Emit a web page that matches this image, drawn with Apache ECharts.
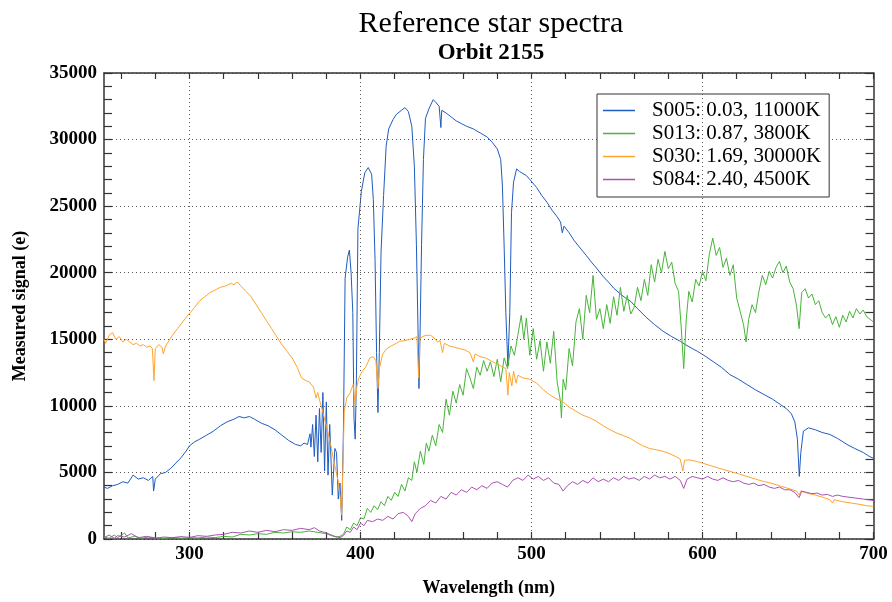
<!DOCTYPE html>
<html>
<head>
<meta charset="utf-8">
<script src="https://cdn.jsdelivr.net/npm/echarts@6/dist/echarts.min.js"></script>
<style>
html,body{margin:0;padding:0;background:#fff;}
#chart{width:892px;height:602px;}
</style>
</head>
<body>
<div id="chart"></div>
<script>
// ---- Data ----
var seriesNames = ['S005: 0.03, 11000K', 'S013: 0.87, 3800K', 'S030: 1.69, 30000K', 'S084: 2.40, 4500K'];

var s005_nm = [250,252,255,258,261,264,267,270,273,276,278.5,279,280,283,286,289,292,295,298,300,303,306,310,314,318,322,326,329,332,335,338,342,346,350,354,358,362,365,367,369,370.5,371,372,373,374,375,376,377,378,379,380,381,382,383.5,385,386,387,388,389,390,391,392.5,393.5,394.5,395.5,396.2,396.9,397.6,398.5,400.5,402.5,404.5,406.5,407.5,408.5,409.4,410.2,411,412,413.5,415,416.5,419,421,424,426,428,430,431.5,432.7,433.6,434.2,434.9,435.7,436.8,438,440,442.5,444,446,447,447.5,450,453,456,459,462,466,470,474,477,480,482,483,484,485,486.2,487.3,488.3,489.5,491.3,493,497,499,503,506,509,512,515,517,518,519,522,525,528.5,532,535,538,542,545,548,552,555,558,562,567.5,572,577,582,587,590,594,597,602,606.5,611,616,621,626,631,636,641,645.5,649,652,654,655.5,656.6,657.5,659,662,666,670,674.5,679,684.5,689,694,697,700];
var s005_val = [3900,3800,4000,4100,4300,4200,4800,4500,4600,4400,4700,3600,4500,4900,5000,5300,5700,6100,6600,7000,7300,7500,7800,8100,8500,8800,9000,9200,9100,9200,9000,8700,8500,8200,7800,7400,7100,7000,7200,7100,7900,6900,8600,6200,9300,5800,9800,6500,11000,5100,10300,4800,8600,3300,6800,6500,3000,4200,1400,8000,19600,21200,21700,20000,17000,9000,7500,12000,23300,26100,27500,27900,27400,25500,21000,14000,9500,14000,21500,25800,29500,30800,31500,31900,32200,32400,32100,31000,28000,22100,16000,11300,16000,22100,28500,31600,32300,33000,32800,32500,30900,32200,32000,31700,31400,31200,31000,30800,30500,30200,29800,29300,28500,26500,22000,17000,13000,17000,24500,26800,27800,27600,27300,27000,26400,25800,25300,24700,24200,23800,23000,23500,23000,22400,21850,21300,20800,20350,19700,19300,18850,18400,18100,17850,17300,16600,16100,15600,15200,14850,14600,14300,14100,13700,13300,12900,12350,12000,11600,11200,10850,10500,10100,9800,9400,8800,7500,4700,6500,8100,8350,8200,8000,7850,7550,7100,6800,6500,6250,6050];

var s013_nm = [250,253,256,258,262,264,268,272,276,280,285,290,295,300,305,310,315,320,325,330,335,340,345,350,355,360,365,370,375,380,383,386,388,390,392,394,396,398,400,402,404,406,408,410,412,414,416,418,420,422,424,426,428,430,431.5,433,435,437,438.5,440,442,444,446,448,450,452,454,456,458,460,462,464,466,468,470,472,474,476,478,480,482,484,486,488,490,492,494,495.5,497,499,501,503,505,507,509,511,513,515,517,517.5,518.5,520,522,524,526,528,530,532,534,536,538,540,542,544,546,548,550,552,554,556,558,560,562,564,566,568,570,572,574,576,578,580,582,584,586,587.5,589,590.5,592,594,596,598,600,602,604,606,608,610,612,614,616,618,620,622,624,625.5,627,629,631,633,635,637,639,641,643,645,647,649,651,653,655,656.5,658,660,662,664,666,668,670,672,674,676,678,680,682,684,686,688,690,692,694,696,698,700];
var s013_val = [150,50,300,100,450,80,200,60,150,100,50,120,60,100,80,150,100,200,150,350,300,400,350,500,450,550,500,600,500,400,250,150,200,350,900,700,1200,1000,1600,1500,2300,2000,2500,2200,2800,2500,3200,2900,3500,3200,4100,3600,4600,4400,5800,5000,6600,5600,7200,6600,7800,7000,8600,8000,10500,9300,11100,10200,11600,10800,12800,12100,11300,12900,12300,13400,12600,13300,12200,13500,11800,13600,12800,14500,13800,15300,16800,15000,16600,13800,15800,13500,14900,12600,14800,13200,15600,11800,10300,9100,12000,11200,14300,13000,16300,17300,15000,18300,17000,19800,16500,17300,15800,17600,16200,18200,16800,18900,17100,18300,16900,17400,18900,17900,19500,18300,20600,19300,21000,20000,21600,20300,20800,19200,18600,16000,12800,16500,18600,17800,19500,19000,20100,19400,21400,22600,21300,21900,20400,21100,19800,20600,18100,17100,16100,14800,16500,17600,17000,18600,19800,19100,20100,19600,20400,20850,20000,20500,19300,18800,17500,15800,18500,18800,18100,18400,17600,17900,17000,16600,16900,16100,16700,15900,16800,16300,17100,16600,17300,16900,17200,16700,16500,16300];

var s030_nm = [250,251,253,255,257,259,261,263,265,267,269,271,273,275,277,278.3,279.2,280,282,284,284.7,286,288,290,293,296,299,300.5,303,306,309,312,315,318,321,324,326,328,330,333,336,339,342,345,348,351,354,357,360,363,365.5,368,370,372.5,374,375,376.3,377.5,379,381,383,384,385.5,387,388,389,390.5,392,394,395.7,396.9,397.8,399,401,403,405.5,407.5,409,410.2,411,413,415.4,418,421,423,426,429,431.5,433,434,434.7,436,438.5,441,443,445,446.5,448,449,452,455,458,461,464,466,467,470,473,476,479,482,485,486.2,487,488.5,489.5,491,492,495,499,503,507,511,515,518.5,522,526,530,534,538,542,546,550,554,557.5,561,565,569,573,577,581,585,587,588.5,589.5,592,596.5,600,605,610,616,621,626,631,635.5,640,645,650,655,656.5,657.5,661,666,670,674.5,676,677,682,687,692,696,700];
var s030_val = [15000,14700,15300,15500,15000,15200,14800,15000,14800,14600,14700,14500,14600,14400,14500,14300,11900,14300,14600,14400,13900,14500,14900,15300,15800,16300,16800,17000,17400,17900,18200,18500,18700,18900,19000,19200,19100,19300,19000,18600,18200,17600,17000,16400,15800,15200,14600,14100,13600,12900,12100,11900,11800,11400,10600,11000,10300,9800,9000,8000,6800,6100,5200,4300,3300,1800,9600,10600,11000,11600,10000,11400,12100,12600,12900,13600,13700,13400,11300,12800,13900,14300,14500,14700,14850,14900,15000,15100,15200,12100,15000,15200,15300,15300,15100,14800,14900,14000,14700,14500,14400,14300,14200,14000,13300,13900,13700,13600,13400,13200,13000,12800,10800,12500,11500,12600,11700,12300,12100,12000,11700,11200,10800,10500,10300,9900,9600,9300,9100,8840,8500,8200,7950,7750,7580,7300,7000,6800,6700,6580,6400,6150,6000,5100,5900,5950,5830,5700,5500,5300,5080,4900,4700,4500,4330,4200,4000,3800,3600,3300,3600,3450,3300,3150,2950,2700,2950,2800,2700,2600,2500,2450];

var s084_nm = [250,253,256,258,262,266,270,275,280,285,290,295,300,305,310,315,320,325,330,335,340,345,350,355,360,365,370,373,376,379,382,385,388,390,392,394,396,398,400,402,404,407,410,413,416,419,422,425,428,430,432,435,438,441,444,447,450,453,456,459,462,465,468,471,474,477,480,483,486,489,492,495,498,501,504,507,510,513,516,518.5,521,524,527,530,533,536,539,542,545,548,551,554,557,560,563,566,569,572,575,578,581,584,587,589,591,594,597,600,603,606,609,612,615,618,621,624,627,630,633,636,639,642,645,648,651,654,656.5,658,661,664,667,670,673,676,679,682,685,688,691,694,697,700];
var s084_val = [100,300,50,250,150,400,100,200,50,150,100,180,120,250,200,300,350,500,450,600,500,650,550,700,650,800,700,850,600,500,350,200,100,250,600,500,900,700,1200,1000,1400,1300,1500,1400,1700,1500,1900,2000,1700,1300,1900,2300,2500,2900,2700,3200,3000,3500,3300,3700,3500,3900,3700,4000,3800,4200,4300,4100,3900,4400,4600,4400,4800,4500,4700,4400,4600,4200,4100,3600,4000,4300,4100,4400,4200,4600,4300,4500,4300,4600,4400,4700,4500,4600,4400,4700,4500,4800,4600,4700,4500,4700,4400,3800,4500,4700,4600,4500,4700,4500,4400,4600,4400,4300,4400,4200,4100,4200,4000,4100,3900,3800,3900,3700,3700,3500,3100,3600,3500,3400,3450,3300,3350,3200,3300,3200,3150,3100,3050,3000,2950,2900];

// ---- Axis ticks / labels ----
var xLabelValues = [300, 400, 500, 600, 700];
var xTickValues = [260,280,300,320,340,360,380,400,420,440,460,480,500,520,540,560,580,600,620,640,660,680,700];
var xGridValues = [300, 400, 500, 600];
var xMin = 250, xMax = 700;
var yMin = 0, yMax = 35000, yStep = 5000;

var colors = ['#1f5cc0', '#46b538', '#ffa42e', '#aa52b2'];

function zip(xs, ys) { return xs.map(function (x, i) { return [x, ys[i]]; }); }

var serif = 'Liberation Serif, Times New Roman, serif';
var axisLineStyle = { color: '#333', width: 1.5 };

var chart = echarts.init(document.getElementById('chart'), null, { renderer: 'canvas' });

var seriesData = [zip(s005_nm, s005_val), zip(s013_nm, s013_val), zip(s030_nm, s030_val), zip(s084_nm, s084_val)];

var series = seriesData.map(function (d, i) {
  return {
    name: seriesNames[i],
    type: 'line',
    data: d,
    symbol: 'none',
    showSymbol: false,
    xAxisIndex: 0,
    yAxisIndex: 0,
    lineStyle: { color: colors[i], width: 1 },
    itemStyle: { color: colors[i] },
    z: 3 + i
  };
});
series[0].markLine = {
  silent: true,
  symbol: ['none', 'none'],
  label: { show: false },
  lineStyle: { color: '#555', type: [1, 3], width: 1 },
  emphasis: { disabled: true },
  data: xGridValues.map(function (v) { return { xAxis: v }; })
};

var option = {
  animation: false,
  backgroundColor: '#fff',
  title: {
    text: 'Reference star spectra',
    subtext: 'Orbit 2155',
    left: 486,
    textAlign: 'center',
    top: 4,
    itemGap: 3,
    textStyle: { fontFamily: serif, fontSize: 30, fontWeight: 'normal', color: '#000' },
    subtextStyle: { fontFamily: serif, fontSize: 23, fontWeight: 'bold', color: '#000' }
  },
  legend: {
    orient: 'vertical',
    left: 597,
    top: 94,
    padding: [5, 8, 6, 6],
    icon: 'rect',
    itemWidth: 32,
    itemHeight: 1.5,
    itemGap: 0,
    borderColor: '#333',
    borderWidth: 1,
    backgroundColor: '#fff',
    data: seriesNames,
    textStyle: { fontFamily: serif, fontSize: 21, color: '#000', lineHeight: 23, padding: [0, 0, 0, 12] }
  },
  grid: { left: 104, right: 18.5, top: 73, bottom: 62, containLabel: false },
  xAxis: [
    {
      type: 'value', position: 'bottom', min: xMin, max: xMax,
      name: 'Wavelength (nm)', nameLocation: 'middle', nameGap: 40,
      nameTextStyle: { fontFamily: serif, fontSize: 18, fontWeight: 'bold', color: '#000' },
      axisLine: { show: true, onZero: false, lineStyle: axisLineStyle },
      axisTick: { show: true, inside: true, length: 7, customValues: xTickValues, lineStyle: { color: '#333', width: 1.2 } },
      axisLabel: { show: true, customValues: xLabelValues, margin: 6, fontFamily: serif, fontSize: 19, fontWeight: 'bold', color: '#000' },
      splitLine: { show: false }
    },
    {
      type: 'value', position: 'top', min: xMin, max: xMax,
      axisLine: { show: true, onZero: false, lineStyle: axisLineStyle },
      axisTick: { show: true, inside: true, length: 6, customValues: xTickValues, lineStyle: { color: '#333', width: 1.2 } },
      axisLabel: { show: false },
      splitLine: { show: false }
    }
  ],
  yAxis: [
    {
      type: 'value', position: 'left', min: yMin, max: yMax, interval: yStep,
      name: 'Measured signal (e)', nameLocation: 'middle', nameGap: 75, nameRotate: 90,
      nameTextStyle: { fontFamily: serif, fontSize: 18, fontWeight: 'bold', color: '#000' },
      axisLine: { show: true, onZero: false, lineStyle: axisLineStyle },
      axisTick: { show: true, inside: true, length: 8, lineStyle: { color: '#333', width: 1.2 } },
      minorTick: { show: true, splitNumber: 5, length: 8, lineStyle: { color: '#333', width: 1.2 } },
      axisLabel: { margin: 7, fontFamily: serif, fontSize: 19, fontWeight: 'bold', color: '#000',
        formatter: function (v) { return String(v); } },
      splitLine: { show: true, lineStyle: { color: '#555', type: [1, 3], width: 1 } }
    },
    {
      type: 'value', position: 'right', min: yMin, max: yMax, interval: yStep,
      axisLine: { show: true, onZero: false, lineStyle: axisLineStyle },
      axisTick: { show: true, inside: true, length: 8, lineStyle: { color: '#333', width: 1.2 } },
      minorTick: { show: true, splitNumber: 5, length: 8, lineStyle: { color: '#333', width: 1.2 } },
      axisLabel: { show: false },
      splitLine: { show: false }
    }
  ],
  series: series
};

chart.setOption(option);
</script>
</body>
</html>
